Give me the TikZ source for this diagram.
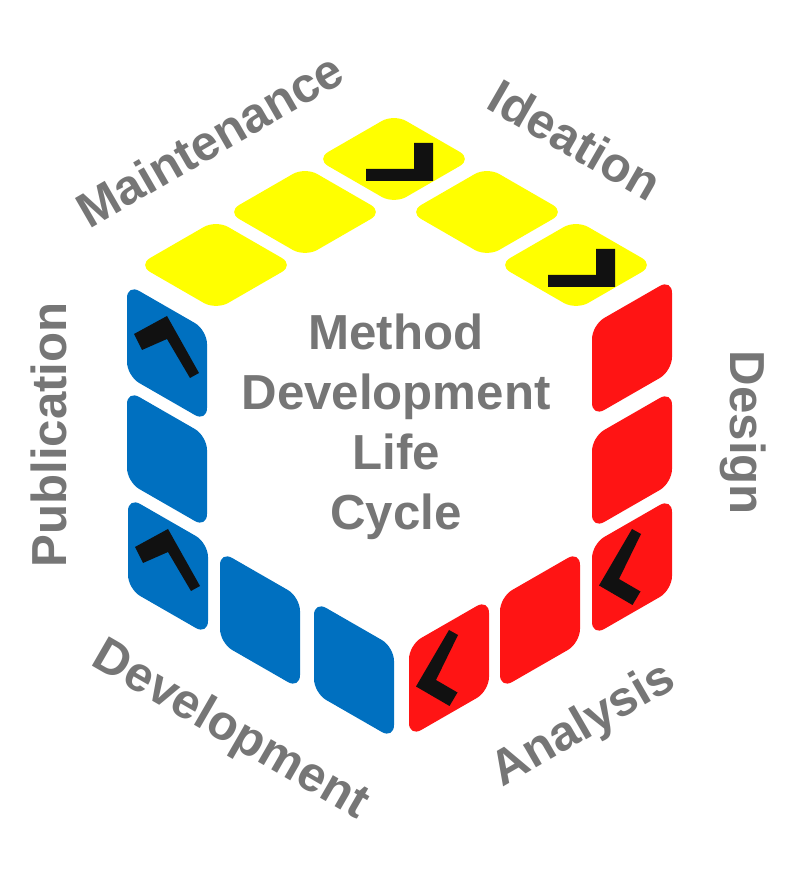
\documentclass[tikz,border=0pt]{standalone}
\usepackage{fontspec}
\setmainfont{Liberation Sans}

\definecolor{cubeyellow}{RGB}{255,255,0}
\definecolor{cubeblue}{RGB}{0,112,192}
\definecolor{cubered}{RGB}{255,20,20}
\definecolor{labelgray}{RGB}{118,118,118}
\definecolor{tickblack}{RGB}{17,17,17}

\begin{document}
\begin{tikzpicture}[
        toptile/.style={fill=cubeyellow, rounded corners=4pt},
        lefttile/.style={fill=cubeblue, rounded corners=4pt},
        righttile/.style={fill=cubered, rounded corners=4pt},
        tick/.style={fill=tickblack},
        title/.style={anchor=base, text=labelgray, font=\fontsize{14}{17}\selectfont\bfseries},
        stage/.style={anchor=base, text=labelgray, font=\fontsize{14}{17}\selectfont\bfseries}]
        \useasboundingbox (0,0) rectangle (7.92,8.70);

        \fill[toptile, shift={(3.94,7.11)}] (0,0.45) -- (0.78,0) -- (0,-0.45) -- (-0.78,0) -- cycle;
        \fill[toptile, shift={(3.05,6.58)}] (0,0.45) -- (0.78,0) -- (0,-0.45) -- (-0.78,0) -- cycle;
        \fill[toptile, shift={(2.16,6.05)}] (0,0.45) -- (0.78,0) -- (0,-0.45) -- (-0.78,0) -- cycle;
        \fill[toptile, shift={(4.87,6.58)}] (0,0.45) -- (0.78,0) -- (0,-0.45) -- (-0.78,0) -- cycle;
        \fill[toptile, shift={(5.76,6.05)}] (0,0.45) -- (0.78,0) -- (0,-0.45) -- (-0.78,0) -- cycle;

        \fill[tick, shift={(3.94,7.11)}] (-0.28,-0.10) -- (0.20,-0.10) -- (0.20,0.16) -- (0.39,0.16) -- (0.39,-0.22) -- (-0.28,-0.22) -- cycle;
        \fill[tick, shift={(5.76,6.05)}] (-0.28,-0.10) -- (0.20,-0.10) -- (0.20,0.16) -- (0.39,0.16) -- (0.39,-0.22) -- (-0.28,-0.22) -- cycle;

        \fill[lefttile, shift={(1.67,5.17)}] (-0.40,0.69) -- (0.40,0.23) -- (0.40,-0.69) -- (-0.40,-0.23) -- cycle;
        \fill[lefttile, shift={(1.67,4.11)}] (-0.40,0.69) -- (0.40,0.23) -- (0.40,-0.69) -- (-0.40,-0.23) -- cycle;
        \fill[lefttile, shift={(1.68,3.04)}] (-0.40,0.69) -- (0.40,0.23) -- (0.40,-0.69) -- (-0.40,-0.23) -- cycle;
        \fill[lefttile, shift={(2.60,2.50)}] (-0.40,0.69) -- (0.40,0.23) -- (0.40,-0.69) -- (-0.40,-0.23) -- cycle;
        \fill[lefttile, shift={(3.54,2.00)}] (-0.40,0.69) -- (0.40,0.23) -- (0.40,-0.69) -- (-0.40,-0.23) -- cycle;

        \fill[tick, shift={(1.67,5.17)}] (-0.33,0.19) -- (0,0.37) -- (0.32,-0.20) -- (0.23,-0.25) -- (0,0.14) -- (-0.25,0.03) -- cycle;
        \fill[tick, shift={(1.68,3.04)}] (-0.33,0.19) -- (0,0.37) -- (0.32,-0.20) -- (0.23,-0.25) -- (0,0.14) -- (-0.25,0.03) -- cycle;

        \fill[righttile, shift={(6.32,5.22)}] (-0.40,0.23) -- (0.40,0.69) -- (0.40,-0.23) -- (-0.40,-0.69) -- cycle;
        \fill[righttile, shift={(6.32,4.10)}] (-0.40,0.23) -- (0.40,0.69) -- (0.40,-0.23) -- (-0.40,-0.69) -- cycle;
        \fill[righttile, shift={(6.32,3.03)}] (-0.40,0.23) -- (0.40,0.69) -- (0.40,-0.23) -- (-0.40,-0.69) -- cycle;
        \fill[righttile, shift={(5.40,2.50)}] (-0.40,0.23) -- (0.40,0.69) -- (0.40,-0.23) -- (-0.40,-0.69) -- cycle;
        \fill[righttile, shift={(4.49,2.02)}] (-0.40,0.23) -- (0.40,0.69) -- (0.40,-0.23) -- (-0.40,-0.69) -- cycle;

        \fill[tick, shift={(6.32,3.03)}] (0,0.38) -- (0.09,0.33) -- (-0.13,-0.12) -- (0.085,-0.245) -- (0.005,-0.38) -- (-0.33,-0.185) -- cycle;
        \fill[tick, shift={(4.49,2.02)}] (0,0.38) -- (0.09,0.33) -- (-0.13,-0.12) -- (0.085,-0.245) -- (0.005,-0.38) -- (-0.33,-0.185) -- cycle;

        \node[title] (method) at (3.96,5.20) {Method};
        \node[title] (development) at (3.96,4.60) {Development};
        \node[title] (life) at (3.96,4.00) {Life};
        \node[title] (cycle) at (3.96,3.40) {Cycle};

        \node[stage, rotate=30] (maintenance) at (2.185,7.15) {Maintenance};
        \node[stage, rotate=-30] (ideation) at (5.665,7.15) {Ideation};
        \node[stage, rotate=-90] (design) at (7.30,4.37) {Design};
        \node[stage, rotate=30] (analysis) at (5.905,1.33) {Analysis};
        \node[stage, rotate=-30] (develop) at (2.235,1.28) {Development};
        \node[stage, rotate=90] (publication) at (0.66,4.35) {Publication};

    \end{tikzpicture}
\end{document}
